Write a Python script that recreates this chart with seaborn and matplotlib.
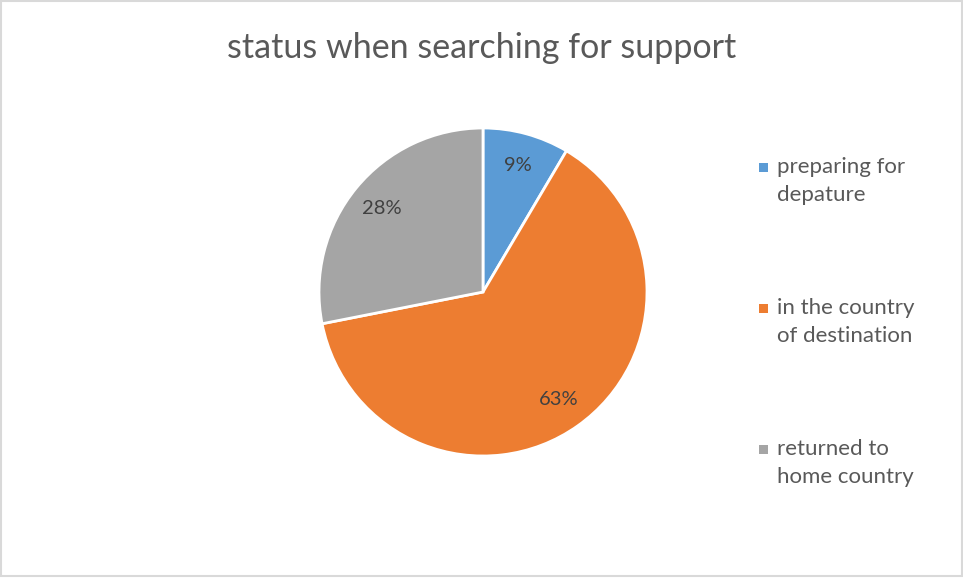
import matplotlib.pyplot as plt
import seaborn as sns
from matplotlib.patches import Patch, Rectangle
from matplotlib.legend_handler import HandlerPatch

# Data
statuses = ["preparing for\ndepature", "in the country\nof destination", "returned to\nhome country"]
shares = [8.5, 63.4, 28.1]
pct_labels = ["9%", "63%", "28%"]
colors = ["#5B9BD5", "#ED7D31", "#A5A5A5"]

sns.set_theme(style="white")
plt.rcParams["font.family"] = ["Lato", "DejaVu Sans"]

fig = plt.figure(figsize=(9.63, 5.78), dpi=100)
fig.patches.append(Rectangle((0.0015, 0.003), 0.997, 0.995, transform=fig.transFigure,
                             fill=False, edgecolor="#d9d9d9", linewidth=1.5))

ax = fig.add_axes([(483 - 164) / 963, (578 - 456) / 578, 328 / 963, 328 / 578])
wedges, _, autotexts = ax.pie(
    shares,
    colors=colors,
    startangle=90,
    counterclock=False,
    autopct="%d%%",
    pctdistance=0.8,
    wedgeprops=dict(edgecolor="white", linewidth=2),
    textprops=dict(color="#404040", fontsize=14.5),
)
for t, lab in zip(autotexts, pct_labels):
    t.set_text(lab)
ax.set_xlim(-1, 1)
ax.set_ylim(-1, 1)
ax.set_aspect("equal")

fig.suptitle("status when searching for support", y=0.945, fontsize=24.5, color="#595959")


def first_line_square(legend, orig_handle, xdescent, ydescent, width, height, fontsize):
    s = 0.38 * fontsize
    return Rectangle((-xdescent + (width - s) / 2 + 2, -ydescent + 0.78 * fontsize), s, s)


handles = [Patch(facecolor=c, edgecolor="none") for c in colors]
leg = fig.legend(
    handles, statuses,
    loc="upper left", bbox_to_anchor=(734 / 963, 1 - 137 / 578),
    frameon=False, fontsize=16, labelcolor="#595959",
    handlelength=0.6, handletextpad=0.45, labelspacing=4.2,
    handler_map={Patch: HandlerPatch(patch_func=first_line_square)},
)
for t in leg.get_texts():
    t.set_linespacing(1.48)

fig.savefig("out.png", dpi=100)
